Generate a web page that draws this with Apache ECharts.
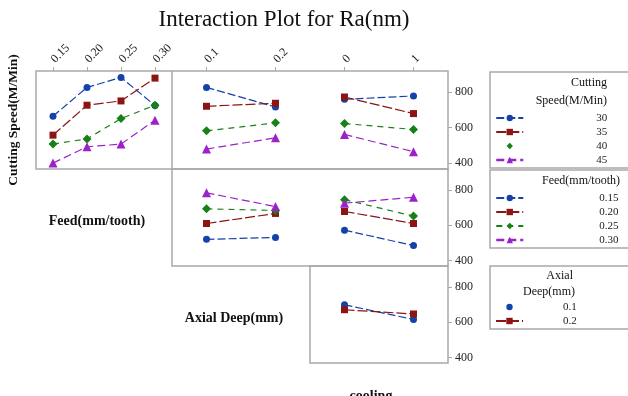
<!DOCTYPE html>
<html>
<head>
<meta charset="utf-8">
<script src="https://cdn.jsdelivr.net/npm/echarts@6/dist/echarts.min.js"></script>
<style>
  html, body { margin: 0; padding: 0; background: #fff; }
  #chart { width: 628px; height: 396px; }
</style>
</head>
<body>
<div id="chart"></div>
<script>
// factor levels
const speedLevels = ['30', '35', '40', '45'];
const feedLevels = ['0.15', '0.20', '0.25', '0.30'];
const depthLevels = ['0.1', '0.2'];
const coolingLevels = ['0', '1'];
const yTicks = [400, 600, 800];

// row 1: traces by cutting speed
const speedByFeed = [[664, 826, 882, 724], [558, 726, 750, 878], [508, 537, 651, 726], [401, 493, 508, 642]];
const speedByDepth = [[826, 716], [720, 737], [582, 627], [480, 543]];
const speedByCooling = [[759, 778], [772, 679], [623, 590], [562, 465]];
// row 2: traces by feed
const feedByDepth = [[519, 530], [609, 666], [692, 683], [783, 705]];
const feedByCooling = [[571, 484], [677, 609], [744, 651], [724, 758]];
// row 3: traces by axial deep
const depthByCooling = [[698, 615], [670, 646]];

const colors = ['#1442a8', '#8c1414', '#178017', '#9b22c9'];
const symbols = ['circle', 'rect', 'diamond', 'triangle'];
const symbolSizes = [7, 7, 9, 9];
const dashes = [[8, 3], [10, 3], [6, 5], [8, 4]];
const serif = '"Liberation Serif", "DejaVu Serif", serif';
const boxColor = '#a9a9a9';

// panel layout: [left, top, width, height, x levels, show x labels, show y axis]
const panels = [
  [36, 71, 136, 98, feedLevels, true, false],
  [172, 71, 138, 98, depthLevels, true, false],
  [310, 71, 138, 98, coolingLevels, true, true],
  [172, 169, 138, 97, depthLevels, false, false],
  [310, 169, 138, 97, coolingLevels, false, true],
  [310, 266, 138, 97, coolingLevels, false, true]
];
const panelData = [
  [0, speedLevels, speedByFeed],
  [1, speedLevels, speedByDepth],
  [2, speedLevels, speedByCooling],
  [3, feedLevels, feedByDepth],
  [4, feedLevels, feedByCooling],
  [5, depthLevels, depthByCooling]
];

const grid = [], xAxis = [], yAxis = [], series = [];
panels.forEach((p, i) => {
  grid.push({ left: p[0], top: p[1], width: p[2], height: p[3], show: false });
  xAxis.push({
    type: 'category', gridIndex: i, data: p[4], position: 'top', boundaryGap: true,
    show: p[5],
    axisLine: { show: false },
    axisTick: { show: true, alignWithLabel: true, length: 4, lineStyle: { color: boxColor } },
    axisLabel: { rotate: -45, margin: 10, fontFamily: serif, fontSize: 12, color: '#222' },
    splitLine: { show: false }
  });
  yAxis.push({
    type: 'value', gridIndex: i, min: 368, max: 918, position: 'right',
    show: p[6],
    axisLine: { show: false },
    axisTick: { show: true, length: 4, customValues: yTicks, lineStyle: { color: boxColor } },
    axisLabel: { customValues: yTicks, margin: 7, fontFamily: serif, fontSize: 12, color: '#222' },
    splitLine: { show: false }
  });
});

panelData.forEach(([gi, names, traces]) => {
  traces.forEach((vals, k) => {
    series.push({
      type: 'line', name: names[k], xAxisIndex: gi, yAxisIndex: gi,
      data: vals, symbol: symbols[k], symbolSize: symbolSizes[k],
      itemStyle: { color: colors[k] },
      lineStyle: { color: colors[k], width: 1.2, type: dashes[k] },
      animation: false, silent: true
    });
  });
});

function legendAt(names, top, pad, hideLine) {
  return {
    orient: 'vertical', left: 495, top: top, padding: 0, itemWidth: 27, itemHeight: 8, itemGap: 2,
    selectedMode: false,
    data: names.map((n, k) => {
      const item = { name: n };
      if (hideLine.indexOf(k) >= 0) item.lineStyle = { color: 'rgba(0,0,0,0)' };
      if (k === 3) item.lineStyle = { width: 2.5 };
      return item;
    }),
    textStyle: { fontFamily: serif, fontSize: 11, lineHeight: 12, color: '#222', padding: [0, 0, 0, pad] }
  };
}

function txt(x, y, text, opts) {
  return {
    type: 'text', x: x, y: y, rotation: opts.rotation || 0,
    style: Object.assign({ text: text, fontFamily: serif, fill: '#111', align: 'center', verticalAlign: 'middle' }, opts.style)
  };
}
function box(x, y, w, h) {
  return { type: 'rect', shape: { x: x, y: y, width: w, height: h }, style: { fill: 'none', stroke: boxColor, lineWidth: 1.5 } };
}

const graphic = [
  txt(284, 20, 'Interaction Plot for Ra(nm)', { style: { fontSize: 23 } }),
  txt(14, 120, 'Cutting Speed(M/Min)', { rotation: Math.PI / 2, style: { fontSize: 13.5, fontWeight: 'bold' } }),
  txt(97, 221, 'Feed(mm/tooth)', { style: { fontSize: 14, fontWeight: 'bold' } }),
  txt(234, 318, 'Axial Deep(mm)', { style: { fontSize: 14, fontWeight: 'bold' } }),
  txt(371, 396, 'cooling', { style: { fontSize: 14, fontWeight: 'bold' } }),
  box(36, 71, 412, 98),
  { type: 'line', shape: { x1: 172, y1: 71, x2: 172, y2: 169 }, style: { stroke: boxColor, lineWidth: 1.5 } },
  box(172, 169, 276, 97),
  box(310, 266, 138, 97),
  box(490, 72, 150, 96),
  box(490, 170, 150, 78),
  box(490, 266, 150, 63),
  txt(607, 83, 'Cutting', { style: { fontSize: 12, align: 'right' } }),
  txt(607, 101, 'Speed(M/Min)', { style: { fontSize: 12, align: 'right' } }),
  txt(620, 181, 'Feed(mm/tooth)', { style: { fontSize: 12, align: 'right' } }),
  txt(573, 276, 'Axial', { style: { fontSize: 12, align: 'right' } }),
  txt(575, 292, 'Deep(mm)', { style: { fontSize: 12, align: 'right' } })
];

const chart = echarts.init(document.getElementById('chart'));
chart.setOption({
  animation: false,
  grid: grid,
  xAxis: xAxis,
  yAxis: yAxis,
  series: series,
  legend: [
    legendAt(speedLevels, 112, 68, [2]),
    legendAt(feedLevels, 192, 71, []),
    legendAt(depthLevels, 301, 35, [0])
  ],
  graphic: graphic
});
</script>
</body>
</html>
